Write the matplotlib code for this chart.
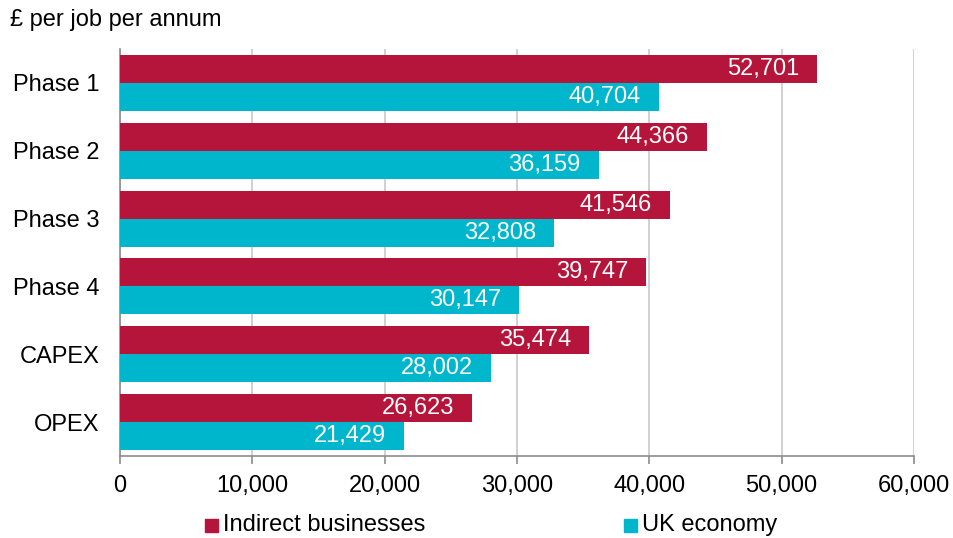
import matplotlib
matplotlib.use("Agg")
import matplotlib.pyplot as plt
import numpy as np

categories = ["Phase 1", "Phase 2", "Phase 3", "Phase 4", "CAPEX", "OPEX"]
indirect = [52701, 44366, 41546, 39747, 35474, 26623]
uk_economy = [40704, 36159, 32808, 30147, 28002, 21429]
x_ticks = [0, 10000, 20000, 30000, 40000, 50000, 60000]

RED = "#B5153A"
TEAL = "#00B6CD"
GRID = "#C8C8C8"
AXIS = "#8C8C8C"

plt.rcParams["font.family"] = ["Liberation Sans", "DejaVu Sans"]

fig = plt.figure(figsize=(9.54, 5.38), dpi=100)
ax = fig.add_axes([120 / 954, 1 - 456 / 538, 794 / 954, 407 / 538])

y = np.arange(len(categories))
h = 0.413
ax.barh(y - h / 2, indirect, height=h, color=RED, zorder=3)
ax.barh(y + h / 2, uk_economy, height=h, color=TEAL, zorder=3)

fs = 17
for yi, v in zip(y, indirect):
    ax.annotate(f"{v:,}", (v, yi - h / 2), xytext=(-18, 0), textcoords="offset pixels",
                ha="right", va="center", color="white", fontsize=fs, zorder=4)
for yi, v in zip(y, uk_economy):
    ax.annotate(f"{v:,}", (v, yi + h / 2), xytext=(-18, 0), textcoords="offset pixels",
                ha="right", va="center", color="white", fontsize=fs, zorder=4)

ax.set_xlim(0, 60000)
ax.set_ylim(len(categories) - 0.5, -0.5)
ax.set_xticks(x_ticks)
ax.set_xticklabels([f"{t:,}" for t in x_ticks], fontsize=fs)
ax.set_yticks(y)
ax.set_yticklabels(categories, fontsize=fs)
ax.tick_params(axis="y", length=0, pad=15)
ax.tick_params(axis="x", length=6, width=1.2, color=AXIS, direction="out", pad=8)

ax.grid(axis="x", color=GRID, linewidth=1.2, zorder=0)
for s in ["top", "right"]:
    ax.spines[s].set_visible(False)
ax.spines["left"].set_color(AXIS)
ax.spines["bottom"].set_color(AXIS)
ax.spines["left"].set_linewidth(1.2)
ax.spines["bottom"].set_linewidth(1.2)

fig.text(10 / 954, 1 - 20 / 538, "£ per job per annum", ha="left", va="center", fontsize=fs)

# Legend entries drawn as square markers with labels
fig.patches.append(plt.Rectangle((205 / 954, 1 - 532 / 538), 13 / 954, 13 / 538,
                                 transform=fig.transFigure, color=RED))
fig.text(223 / 954, 1 - 525 / 538, "Indirect businesses", ha="left", va="center", fontsize=fs)
fig.patches.append(plt.Rectangle((624 / 954, 1 - 532 / 538), 13 / 954, 13 / 538,
                                 transform=fig.transFigure, color=TEAL))
fig.text(642 / 954, 1 - 525 / 538, "UK economy", ha="left", va="center", fontsize=fs)

fig.savefig("out.png", dpi=100)
